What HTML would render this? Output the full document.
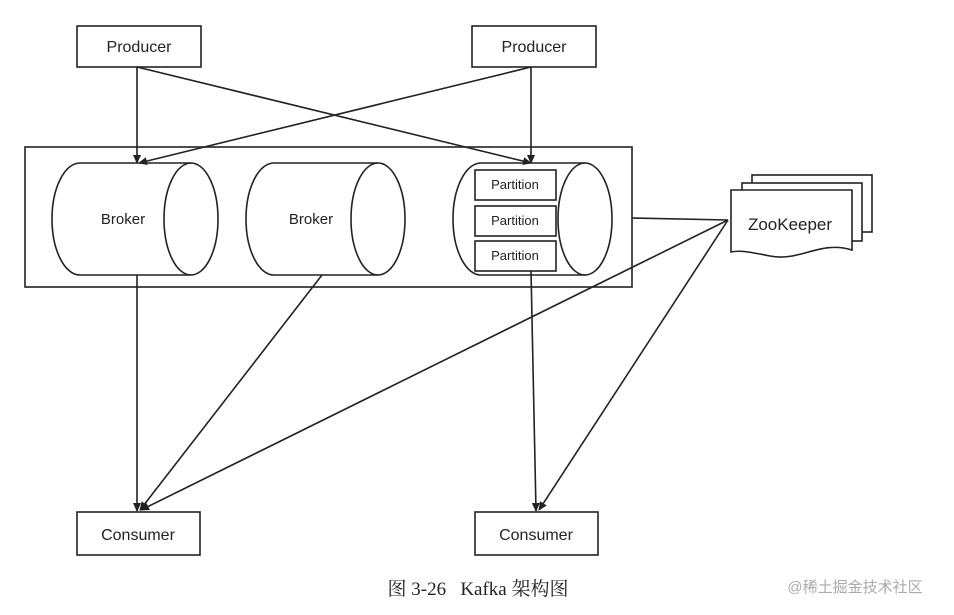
<!DOCTYPE html>
<html><head><meta charset="utf-8"><style>
html,body{margin:0;padding:0;background:#fff;width:954px;height:615px;overflow:hidden}
svg{display:block}
.t{font-family:"Liberation Sans","DejaVu Sans",sans-serif;fill:#222}
</style></head><body>
<svg width="954" height="615" viewBox="0 0 954 615" xmlns="http://www.w3.org/2000/svg">
<defs><marker id="a" markerWidth="10" markerHeight="10" refX="8" refY="5" orient="auto" markerUnits="userSpaceOnUse"><path d="M0,1 L9,5 L0,9 z" fill="#222"/></marker></defs>
<g stroke="#222" stroke-width="1.6" fill="none">
<rect x="25" y="147" width="607" height="140" fill="#fff"/>
<!-- producers -->
<rect x="77" y="26" width="124" height="41" fill="#fff"/>
<rect x="472" y="26" width="124" height="41" fill="#fff"/>
<rect x="77" y="512" width="123" height="43" fill="#fff"/>
<rect x="475" y="512" width="123" height="43" fill="#fff"/>
<!-- cylinders -->
<path d="M80,163 L191,163 M80,275 L191,275 M80,163 A28,56 0 0 0 80,275" />
<ellipse cx="191" cy="219" rx="27" ry="56"/>
<path d="M274,163 L378,163 M274,275 L378,275 M274,163 A28,56 0 0 0 274,275"/>
<ellipse cx="378" cy="219" rx="27" ry="56"/>
<path d="M481,163 L585,163 M481,275 L585,275 M481,163 A28,56 0 0 0 481,275"/>
<ellipse cx="585" cy="219" rx="27" ry="56"/>
<rect x="475" y="170" width="81" height="30" fill="#fff"/>
<rect x="475" y="206" width="81" height="30" fill="#fff"/>
<rect x="475" y="241" width="81" height="30" fill="#fff"/>
<!-- arrows -->
<line x1="137" y1="67" x2="137" y2="163" marker-end="url(#a)"/>
<line x1="137" y1="67" x2="531" y2="163" marker-end="url(#a)"/>
<line x1="531" y1="67" x2="531" y2="163" marker-end="url(#a)"/>
<line x1="531" y1="67" x2="139" y2="163" marker-end="url(#a)"/>
<line x1="137" y1="275" x2="137" y2="511" marker-end="url(#a)"/>
<line x1="322" y1="275" x2="140" y2="510" marker-end="url(#a)"/>
<line x1="531" y1="271" x2="536" y2="511" marker-end="url(#a)"/>
<line x1="728" y1="220" x2="141" y2="510" marker-end="url(#a)"/>
<line x1="728" y1="220" x2="539" y2="510" marker-end="url(#a)"/>
<line x1="632" y1="218" x2="728" y2="220"/>
<!-- zookeeper -->
<rect x="752" y="175" width="120" height="57" fill="#fff"/>
<rect x="742" y="183" width="120" height="58" fill="#fff"/>
<path d="M731,190 L852,190 L852,250 C820,240 800,262 770,256 C750,252 740,250 731,252 Z" fill="#fff"/>
</g>
<g class="t">
<text x="139" y="52" font-size="16" text-anchor="middle">Producer</text>
<text x="534" y="52" font-size="16" text-anchor="middle">Producer</text>
<text x="138" y="540" font-size="16" text-anchor="middle">Consumer</text>
<text x="536" y="540" font-size="16" text-anchor="middle">Consumer</text>
<text x="123" y="224" font-size="15" text-anchor="middle">Broker</text>
<text x="311" y="224" font-size="15" text-anchor="middle">Broker</text>
<text x="515" y="189" font-size="13" text-anchor="middle">Partition</text>
<text x="515" y="225" font-size="13" text-anchor="middle">Partition</text>
<text x="515" y="260" font-size="13" text-anchor="middle">Partition</text>
<text x="790" y="230" font-size="17" text-anchor="middle">ZooKeeper</text>
</g>
<text x="478" y="595" font-size="19" text-anchor="middle" fill="#222" font-family="'Liberation Serif','Noto Serif CJK SC',serif">图 3-26&#160;&#160;&#160;Kafka 架构图</text>
<text x="855" y="592" font-size="15" text-anchor="middle" fill="#aaa" font-family="'Liberation Sans','Noto Sans CJK SC',sans-serif">@稀土掘金技术社区</text>
</svg>
</body></html>
